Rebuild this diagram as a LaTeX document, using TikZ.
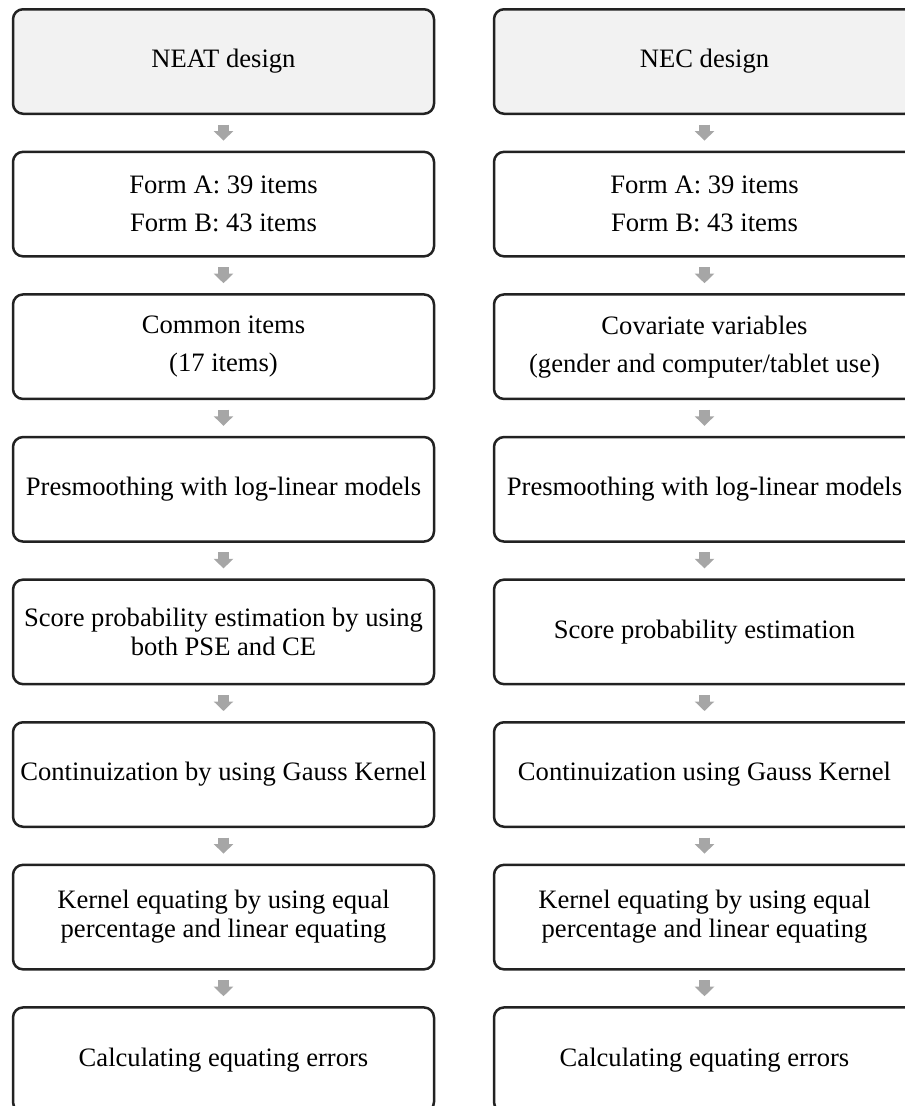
\documentclass[tikz,border=0pt]{standalone}
\usepackage{fontspec}
\setmainfont{Liberation Serif}
\usetikzlibrary{arrows.meta,positioning}
\definecolor{boxline}{HTML}{222222}
\definecolor{headfill}{HTML}{F2F2F2}
\definecolor{arrowgray}{HTML}{A6A6A6}
\tikzset{
  flowbox/.style={draw=boxline, line width=2.5pt, rounded corners=10pt,
    minimum width=421pt, minimum height=104.5pt, inner sep=0pt,
    align=center, text=black, font=\fontsize{26.6}{29}\selectfont},
  headbox/.style={flowbox, fill=headfill},
  flowarrow/.style={draw=arrowgray, line width=11pt,
    -{Triangle[width=19pt,length=9.5pt]}, shorten <=9.5pt, shorten >=10pt}
}
\begin{document}
\begin{tikzpicture}[x=1pt,y=-1pt]
\useasboundingbox (0,0) rectangle (905,1106);
\def\lx{223.5}
\def\rx{704.5}
% left column
\node[headbox] (l1) at (\lx,61.5) {NEAT design};
\node[flowbox] (l2) at (\lx,204.1) {Form A: 39 items\\[9pt]Form B: 43 items};
\node[flowbox] (l3) at (\lx,346.7) {Common items\\[9pt](17 items)};
\node[flowbox] (l4) at (\lx,489.3) {Presmoothing with log-linear models};
\node[flowbox] (l5) at (\lx,631.9) {Score probability estimation by using\\both PSE and CE};
\node[flowbox] (l6) at (\lx,774.5) {Continuization by using Gauss Kernel};
\node[flowbox] (l7) at (\lx,917.1) {Kernel equating by using equal\\percentage and linear equating};
\node[flowbox] (l8) at (\lx,1059.7) {Calculating equating errors};
% right column
\node[headbox] (r1) at (\rx,61.5) {NEC design};
\node[flowbox] (r2) at (\rx,204.1) {Form A: 39 items\\[9pt]Form B: 43 items};
\node[flowbox] (r3) at (\rx,346.7) {Covariate variables\\[9pt](gender and computer/tablet use)};
\node[flowbox] (r4) at (\rx,489.3) {Presmoothing with log-linear models};
\node[flowbox] (r5) at (\rx,631.9) {Score probability estimation};
\node[flowbox] (r6) at (\rx,774.5) {Continuization using Gauss Kernel};
\node[flowbox] (r7) at (\rx,917.1) {Kernel equating by using equal\\percentage and linear equating};
\node[flowbox] (r8) at (\rx,1059.7) {Calculating equating errors};
% arrows
\foreach \a/\b in {1/2,2/3,3/4,4/5,5/6,6/7,7/8}{
  \draw[flowarrow] (l\a.south) -- (l\b.north);
  \draw[flowarrow] (r\a.south) -- (r\b.north);
}
\end{tikzpicture}
\end{document}
